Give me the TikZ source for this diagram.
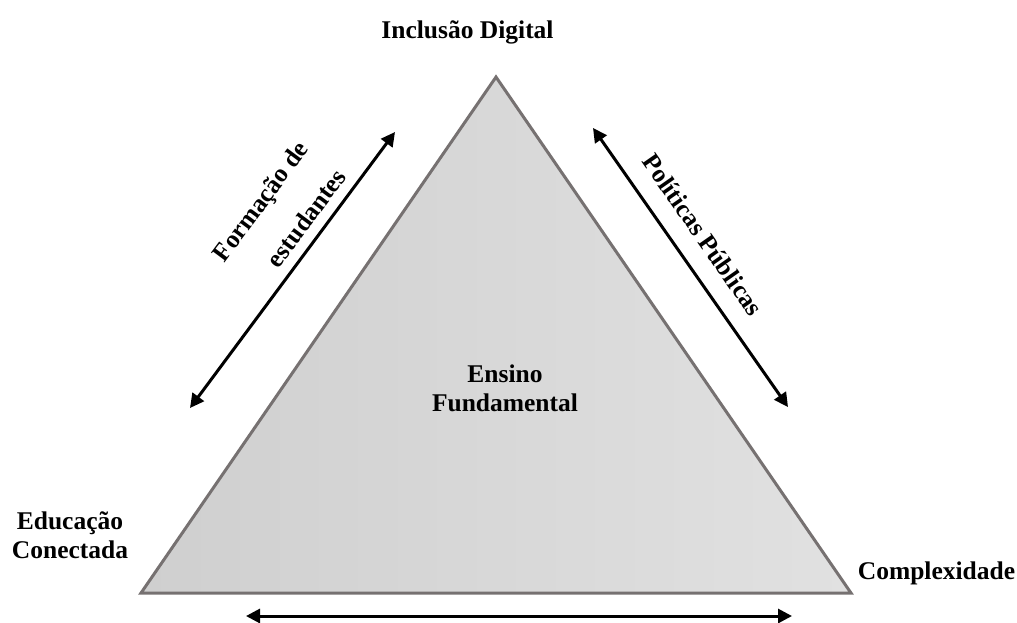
\documentclass[tikz,border=0pt]{standalone}
\usepackage{fontspec}
\setmainfont{Liberation Serif}
\usetikzlibrary{arrows.meta}
\definecolor{edgegray}{RGB}{118,113,113}
\definecolor{fillL}{RGB}{207,207,207}
\definecolor{fillR}{RGB}{225,225,225}
\tikzset{
  lbl/.style={font=\bfseries\fontsize{25.5}{29}\selectfont, align=center, inner sep=0pt},
  sidelbl/.style={font=\bfseries\fontsize{25.5}{47}\selectfont, inner sep=0pt},
  dblarrow/.style={line width=3pt, {Triangle[length=14pt,width=14pt]}-{Triangle[length=14pt,width=14pt]}},
}
\begin{document}
\begin{tikzpicture}[x=1pt,y=-1pt]
  \useasboundingbox (0,0) rectangle (1017,622);
  % triangle corners
  \coordinate (top) at (496,77);
  \coordinate (bl) at (141,593);
  \coordinate (br) at (851,593);
  \shade[left color=fillL, right color=fillR] (top) -- (bl) -- (br) -- cycle;
  \draw[edgegray, line width=3pt, line join=miter] (top) -- (bl) -- (br) -- cycle;

  % vertex labels
  \node[lbl, anchor=base] (incl) at (467.5,38.5) {Inclusão Digital};
  \node[lbl] (educ) at (70,535) {Educação\\Conectada};
  \node[lbl, anchor=base] (compl) at (936.5,579) {Complexidade};
  \node[lbl] (ensino) at (505,388) {Ensino\\Fundamental};

  % arrow end points
  \coordinate (la) at (395,132);
  \coordinate (lb) at (190,408);
  \coordinate (ra) at (593,128);
  \coordinate (rb) at (788,407);
  \coordinate (ba) at (246,616);
  \coordinate (bb) at (792,616);
  \draw[dblarrow] (lb) -- (la);
  \draw[dblarrow] (ra) -- (rb);
  \draw[dblarrow] (ba) -- (bb);

  % edge labels
  \node[sidelbl, align=right, rotate=53.4] (form) at (279,215) {Formação de\\estudantes};
  \node[sidelbl, rotate=-55] (polit) at (703,235) {Políticas Públicas};
\end{tikzpicture}
\end{document}
